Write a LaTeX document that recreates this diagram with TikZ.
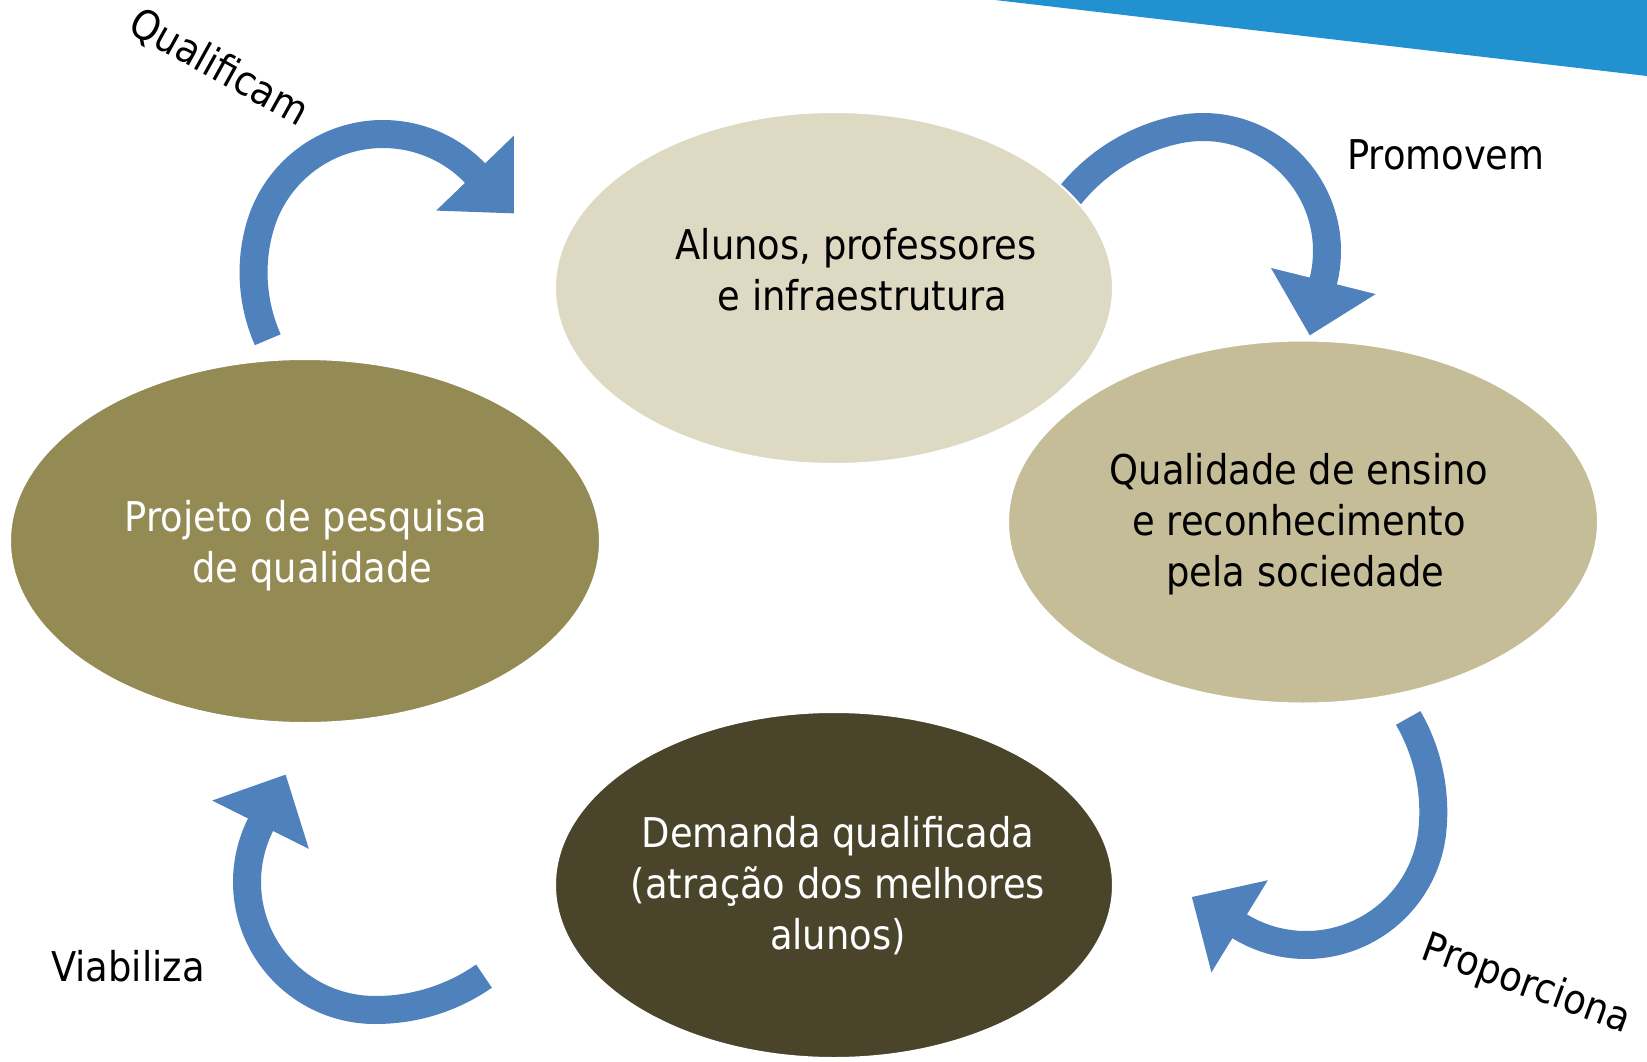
\documentclass[tikz,border=0pt]{standalone}
\usepackage{fontspec}
\setmainfont{DejaVu Sans Condensed}
\usetikzlibrary{calc,shapes.geometric}
\definecolor{arrowblue}{RGB}{79,129,189}
\definecolor{topband}{RGB}{33,145,208}
\definecolor{ellA}{RGB}{221,217,195}
\definecolor{ellB}{RGB}{196,189,151}
\definecolor{ellC}{RGB}{148,138,84}
\definecolor{ellD}{RGB}{74,69,42}
\begin{document}
\begin{tikzpicture}[x=1pt,y=-1pt,
  band/.style={draw=arrowblue, line width=28pt},
  head/.style={fill=arrowblue},
  ell/.style={ellipse, draw=white, line width=2pt, inner sep=0pt, outer sep=0pt},
  txt/.style={align=center, font=\fontsize{41}{51}\selectfont},
  lbl/.style={font=\fontsize{41}{48}\selectfont, inner sep=0pt}]
\useasboundingbox (0,0) rectangle (1647,1062);
\fill[white] (0,0) rectangle (1647,1062);
\fill[topband] (995,0) -- (1647,0) -- (1647,76) -- cycle;

% arrow centres
\coordinate (c1) at (383,262);
\coordinate (c2) at (1203,251);
\coordinate (c3) at (1306,818);
\coordinate (c4) at (375,882);

% Qualificam arrow
\draw[band] plot[domain=146:317, samples=100, variable=\t]
  ({383+(128+11*max(0,1-(\t-146)/50)^2)*cos(\t)},{262+(128+11*max(0,1-(\t-146)/50)^2)*sin(\t)});
\fill[head] ($(c1)+(316:182)$) -- ($(c1)+(316:74)$) -- ($(c1)+(316:128)+(46:56)$) -- cycle;

% Promovem arrow
\draw[band] plot[domain=198:375, samples=100, variable=\t]
  ({1203+(124+20*max(0,1-(\t-202.8)/55)^2)*cos(\t)},{251+(124+20*max(0,1-(\t-202.8)/55)^2)*sin(\t)});
\fill[head] ($(c2)+(14:178)$) -- ($(c2)+(14:70)$) -- ($(c2)+(14:124)+(104:56)$) -- cycle;

% Proporciona arrow
\draw[band] plot[domain=315.6:482.5, samples=100, variable=\t]
  ({1306+(127+16*max(0,1-(\t-315.6)/50)^2)*cos(\t)},{818+(127+16*max(0,1-(\t-315.6)/50)^2)*sin(\t)});
\fill[head] ($(c3)+(121.5:181)$) -- ($(c3)+(121.5:73)$) -- ($(c3)+(121.5:127)+(211.5:56)$) -- cycle;

% Viabiliza arrow
\draw[band] plot[domain=40.8:207.6, samples=100, variable=\t]
  ({375+(128+16*max(0,1-(\t-40.8)/50)^2)*cos(\t)},{882+(128+16*max(0,1-(\t-40.8)/50)^2)*sin(\t)});
\fill[head] ($(c4)+(206.6:182)$) -- ($(c4)+(206.6:74)$) -- ($(c4)+(206.6:128)+(296.6:56)$) -- cycle;

% ellipses
\node[ell, fill=ellA, minimum width=558pt, minimum height=352pt] (alunos) at (834,288) {};
\node[ell, fill=ellB, minimum width=590pt, minimum height=363pt] (qualidade) at (1303,522) {};
\node[ell, fill=ellC, minimum width=590pt, minimum height=364pt] (projeto) at (305,541) {};
\node[ell, fill=ellD, minimum width=558pt, minimum height=346pt] (demanda) at (834,885) {};

% texts
\node[txt] (talunos) at (856,270) {Alunos, professores\\\hspace{13pt}e infraestrutura};
\node[txt] (tqual) at (1299,524) {Qualidade de ensino\\e reconhecimento\\\hspace{13pt}pela sociedade};
\node[txt, text=white] (tproj) at (306,546) {Projeto de pesquisa\\\hspace{13pt}de qualidade};
\node[txt, text=white] (tdem) at (838,886) {Demanda qualificada\\(atração dos melhores\\alunos)};

% labels
\node[lbl, rotate=-29] (lq) at (219,68) {Qualificam};
\node[lbl] (lpm) at (1446,155) {Promovem};
\node[lbl, rotate=-20] (lpp) at (1526,985) {Proporciona};
\node[lbl] (lv) at (128,966) {Viabiliza};
\end{tikzpicture}
\end{document}
